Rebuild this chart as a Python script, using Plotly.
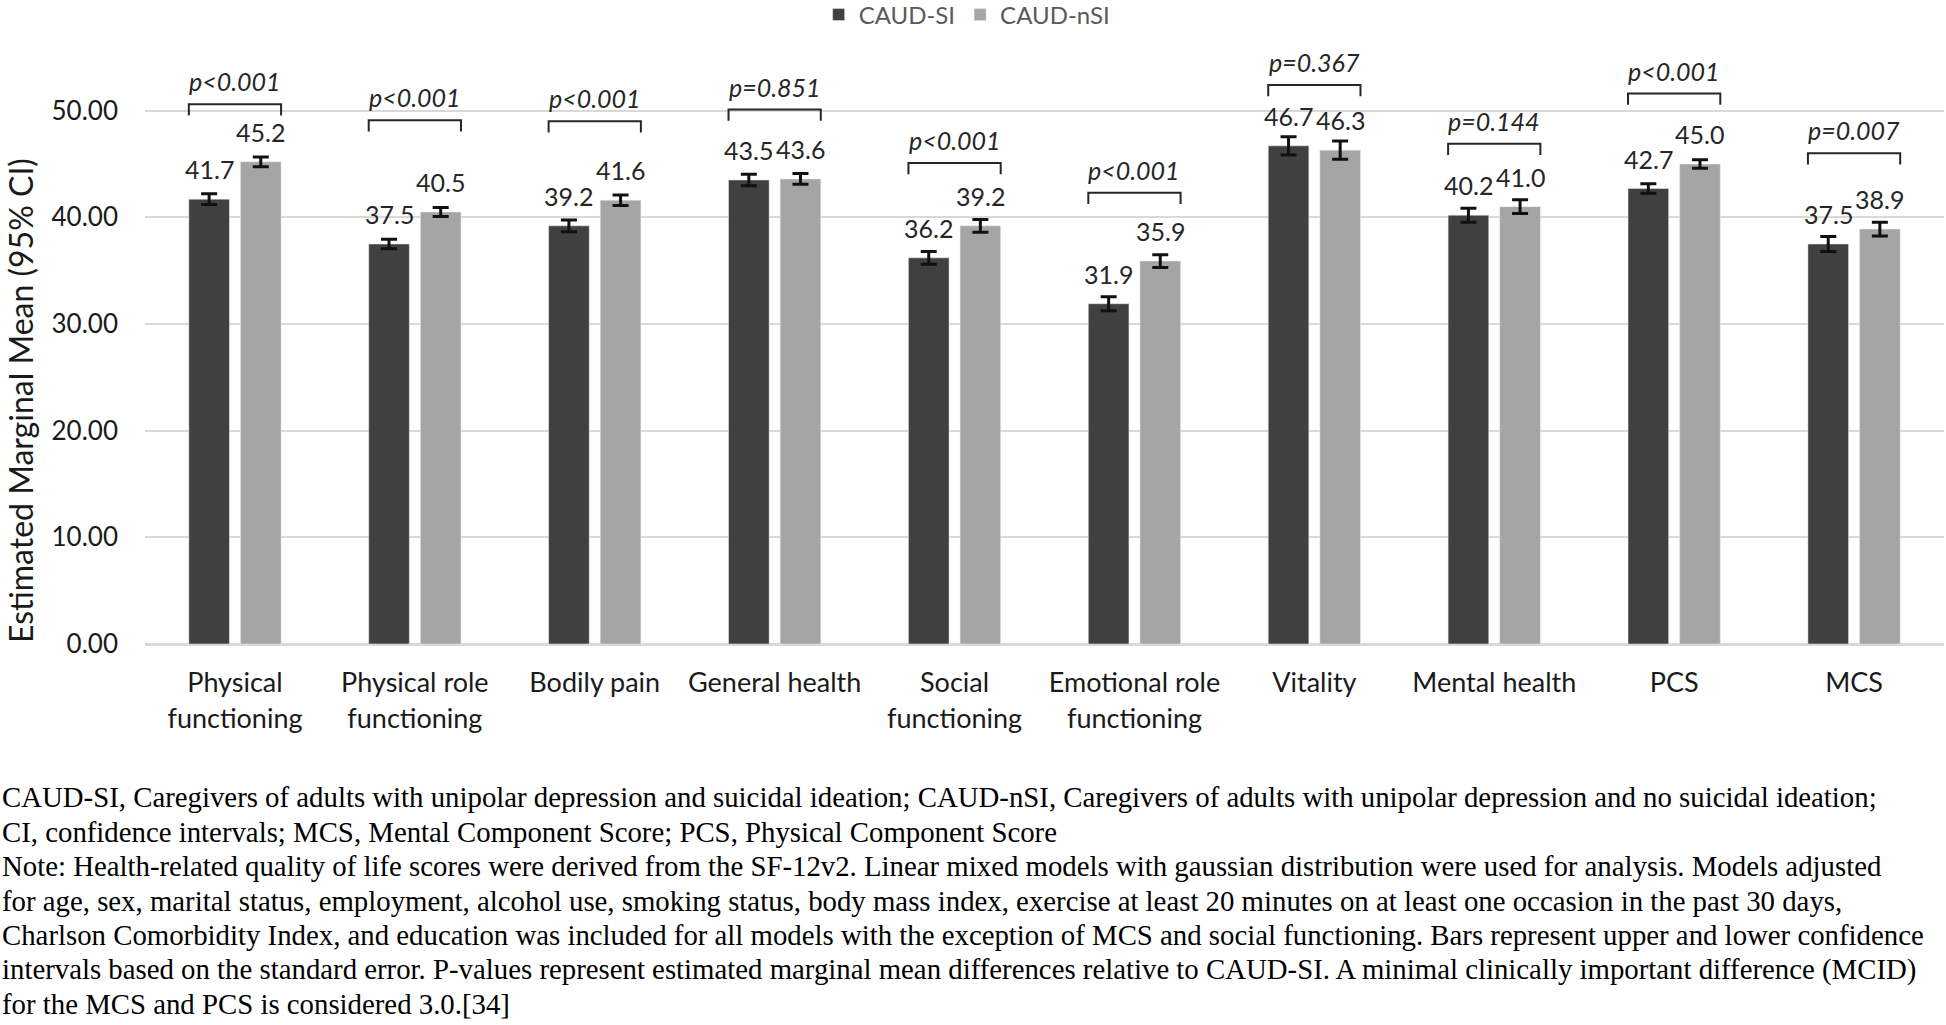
import plotly.graph_objects as go

# ---------------- data ----------------
categories = ["Physical<br>functioning", "Physical role<br>functioning", "Bodily pain",
              "General health", "Social<br>functioning", "Emotional role<br>functioning",
              "Vitality", "Mental health", "PCS", "MCS"]
caud_si = [41.7, 37.5, 39.2, 43.5, 36.2, 31.9, 46.7, 40.2, 42.7, 37.5]
caud_nsi = [45.2, 40.5, 41.6, 43.6, 39.2, 35.9, 46.3, 41.0, 45.0, 38.9]
caud_si_ci = [0.5, 0.45, 0.55, 0.55, 0.6, 0.65, 0.85, 0.65, 0.45, 0.7]
caud_nsi_ci = [0.45, 0.42, 0.5, 0.5, 0.6, 0.6, 0.85, 0.65, 0.4, 0.65]
p_values = ["p<0.001", "p<0.001", "p<0.001", "p=0.851", "p<0.001",
            "p<0.001", "p=0.367", "p=0.144", "p<0.001", "p=0.007"]
bracket_level = [50.6, 49.1, 49.0, 50.1, 45.1, 42.3, 52.4, 46.9, 51.6, 46.0]
y_ticks = [0, 10, 20, 30, 40, 50]
y_title = "Estimated Marginal Mean (95% CI)"
footnote_lines = [
    "CAUD-SI, Caregivers of adults with unipolar depression and suicidal ideation; CAUD-nSI, Caregivers of adults with unipolar depression and no suicidal ideation;",
    "CI, confidence intervals; MCS, Mental Component Score; PCS, Physical Component Score",
    "Note: Health-related quality of life scores were derived from the SF-12v2. Linear mixed models with gaussian distribution were used for analysis. Models adjusted",
    "for age, sex, marital status, employment, alcohol use, smoking status, body mass index, exercise at least 20 minutes on at least one occasion in the past 30 days,",
    "Charlson Comorbidity Index, and education was included for all models with the exception of MCS and social functioning. Bars represent upper and lower confidence",
    "intervals based on the standard error. P-values represent estimated marginal mean differences relative to CAUD-SI. A minimal clinically important difference (MCID)",
    "for the MCS and PCS is considered 3.0.[34]",
]

# ---------------- style ----------------
W, H = 1946, 1025
ML, MR, MT, MB = 145, 2, 4, 381
PW, PH = W - ML - MR, H - MT - MB
Y_MAX = 60
BARGAP, GROUPGAP = 0.426, 0.213
DARK, LIGHT = "#404040", "#a5a5a5"
FONT = "Lato"
cat_px = PW / len(categories)
slot_shift = (1 - BARGAP) / 4 * cat_px
bar_half = (1 - BARGAP) / 2 - (1 - BARGAP) / 2 * GROUPGAP / 2


def px_x(px):
    return (px - ML) / PW


def px_y(py):
    return (H - MB - py) / PH


fig = go.Figure()
err_style = dict(type="data", color="#111111", thickness=3, width=8)
fig.add_bar(x=categories, y=caud_si, name="CAUD-SI", marker_color=DARK,
            error_y=dict(array=caud_si_ci, **err_style))
fig.add_bar(x=categories, y=caud_nsi, name="CAUD-nSI", marker_color=LIGHT,
            error_y=dict(array=caud_nsi_ci, **err_style))

# value labels
for i, c in enumerate(categories):
    for vals, sh in ((caud_si, -slot_shift), (caud_nsi, slot_shift)):
        fig.add_annotation(x=i, y=vals[i], xref="x", yref="y", text=f"{vals[i]:.1f}",
                           showarrow=False, xshift=sh, yshift=30, yanchor="middle",
                           font=dict(family=FONT, size=25, color="#262626"))

# p-value brackets
for i, (p, lvl) in enumerate(zip(p_values, bracket_level)):
    x0, x1 = i - bar_half, i + bar_half
    fig.add_shape(type="path", xref="x", yref="y",
                  path=f"M {x0} {lvl - 1.05} L {x0} {lvl} L {x1} {lvl} L {x1} {lvl - 1.05}",
                  line=dict(color="#262626", width=2))
    fig.add_annotation(x=i, y=lvl, xref="x", yref="y", text=f"<i>{p}</i>",
                       showarrow=False, yshift=23, yanchor="middle",
                       font=dict(family=FONT, size=25, color="#262626"))

# y-axis title (placed like the original, centred lower than the axis)
fig.add_annotation(x=px_x(20), y=px_y(401), xref="paper", yref="paper", text=y_title,
                   textangle=-90, showarrow=False, xanchor="center", yanchor="middle",
                   font=dict(family=FONT, size=32, color="#1a1a1a"))

# footnote
for k, line in enumerate(footnote_lines):
    fig.add_annotation(x=px_x(0), y=px_y(797 + k * 34.5), xref="paper", yref="paper",
                       text=line, showarrow=False, xanchor="left", yanchor="middle",
                       align="left",
                       font=dict(family="Liberation Serif", size=28.8, color="#000000"))

fig.update_layout(
    width=W, height=H, margin=dict(l=ML, r=MR, t=MT, b=MB, autoexpand=False),
    barmode="group", bargap=BARGAP, bargroupgap=GROUPGAP,
    plot_bgcolor="white", paper_bgcolor="white",
    font=dict(family=FONT, size=25, color="#262626"),
    showlegend=True,
    legend=dict(orientation="h", x=0.457, xanchor="center", y=px_y(15),
                yanchor="middle", font=dict(family=FONT, size=24, color="#595959"),
                bgcolor="rgba(0,0,0,0)", traceorder="normal"),
    xaxis=dict(showgrid=False, showline=True, linecolor="#d9d9d9", linewidth=2,
               ticks="", tickfont=dict(family=FONT, size=27, color="#1a1a1a"),
               ticklabelstandoff=14, automargin=False),
    yaxis=dict(range=[0, Y_MAX], tickvals=y_ticks, tickformat=".2f",
               showgrid=True, gridcolor="#d9d9d9", gridwidth=2,
               zeroline=True, zerolinecolor="#d9d9d9", zerolinewidth=2,
               showline=False, ticks="", ticklabelstandoff=26, automargin=False,
               tickfont=dict(family=FONT, size=26, color="#1a1a1a")),
)

fig.write_html("out.html", config={"displayModeBar": False},
               post_script="document.body.style.margin='0';document.body.style.overflow='hidden';")
